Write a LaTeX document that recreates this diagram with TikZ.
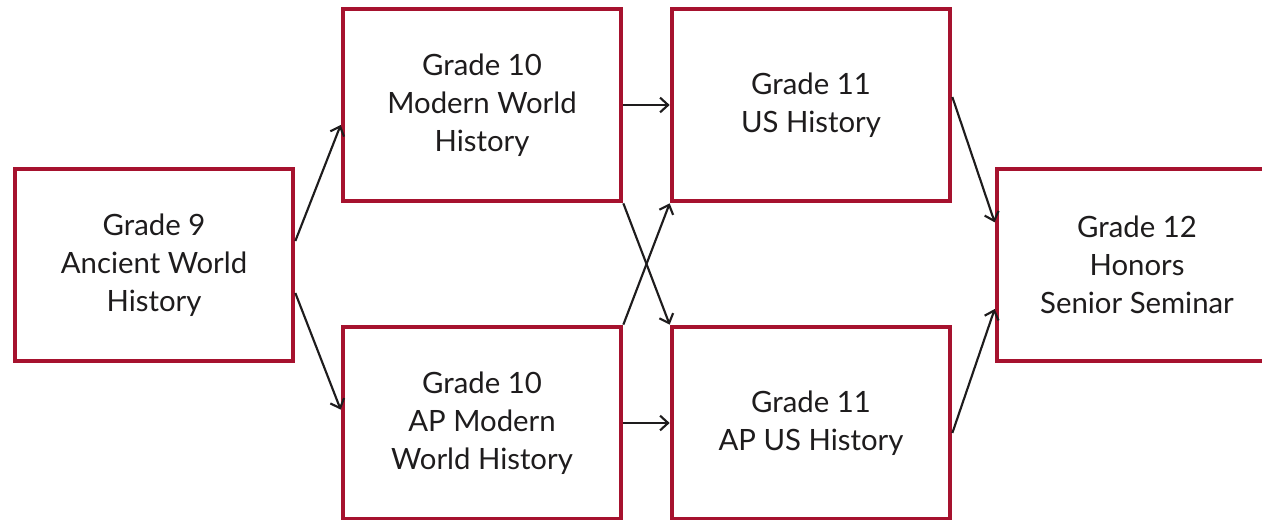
\documentclass[tikz,border=0pt]{standalone}
\usepackage{fontspec}
\setmainfont{Lato}
\usetikzlibrary{arrows.meta}
\definecolor{crimson}{RGB}{166,18,46}
\definecolor{ink}{RGB}{30,28,29}

\begin{document}
\begin{tikzpicture}[x=0.75pt, y=-0.75pt]
			\tikzstyle{course} = [rectangle, draw=crimson, line width=3.5pt, fill=white, align=center, minimum width=208.5pt, minimum height=144pt, inner sep=0pt, text=ink, font=\fontsize{22}{28.5}\selectfont]
			\tikzstyle{link}   = [-{Straight Barb[length=6pt, width=11pt]}, line width=1.6pt, draw=ink]

%			\draw[step=50, gray!50] (0,0) grid (1262,520);
			\useasboundingbox (0,0) rectangle (1262,520);

			\foreach \name/\x/\y/\text in {g9/154/265/{Grade 9\\Ancient World\\History},
				m10/482/105/{Grade 10\\Modern World\\History},
				ap10/482/423/{Grade 10\\AP Modern\\World History},
				us11/811/105/{Grade 11\\US History},
				ap11/811/423/{Grade 11\\AP US History}}
				\node[course] (\name) at (\x, \y) {\text};

			\node[course, minimum width=210pt] (g12) at (1137, 265) {Grade 12\\Honors\\Senior Seminar};

			\draw[link] ([yshift=18pt]g9.east) -- ([yshift=-15pt]m10.west);
			\draw[link] ([yshift=-21pt]g9.east) -- ([yshift=10pt]ap10.west);

			\foreach \from/\to in {m10/us11, ap10/ap11}
				\draw[link] (\from.east) -- (\to.west);

			\draw[link] (m10.south east) -- (ap11.north west);
			\draw[link] (ap10.north east) -- (us11.south west);

			\draw[link] ([yshift=6pt]us11.east) -- ([yshift=32pt]g12.west);
			\draw[link] ([yshift=-7.5pt]ap11.east) -- ([yshift=-33pt]g12.west);

		\end{tikzpicture}
\end{document}
